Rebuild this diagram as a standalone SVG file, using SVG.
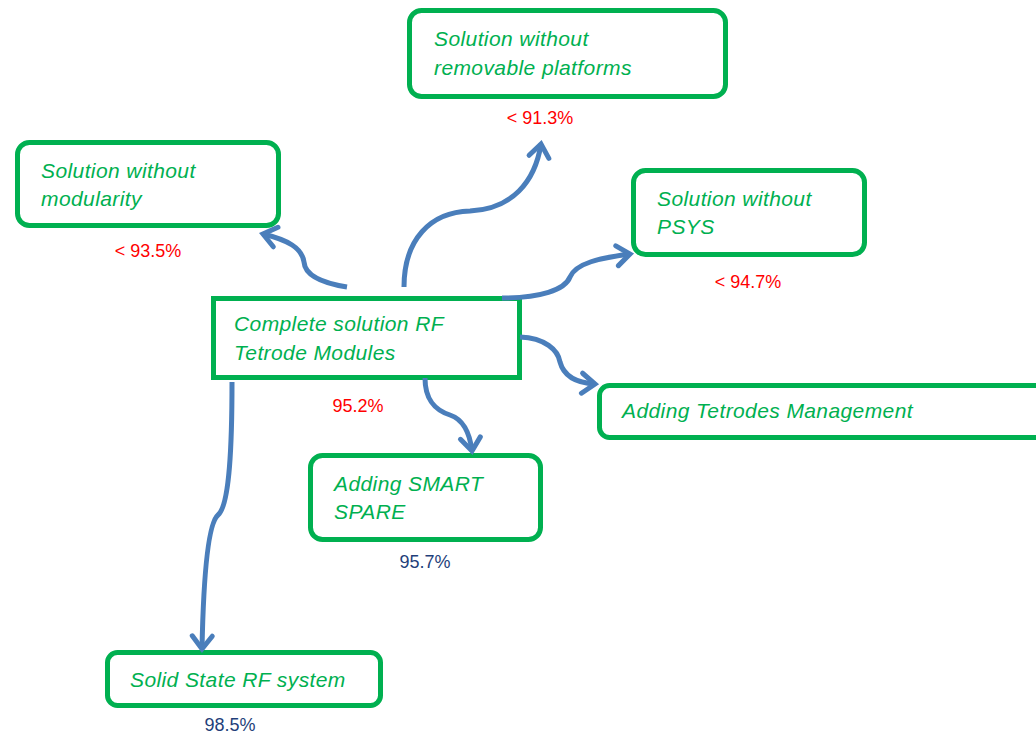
<svg xmlns="http://www.w3.org/2000/svg" width="1036" height="733" viewBox="0 0 1036 733">
  <style>
    .box { fill: #ffffff; stroke: #00B050; stroke-width: 5; }
    .name { font-family: "Liberation Sans", "DejaVu Sans", sans-serif; font-style: italic; font-size: 21px; letter-spacing: 0.4px; fill: #00B050; }
    .pct { font-family: "Liberation Sans", "DejaVu Sans", sans-serif; font-size: 18px; text-anchor: middle; }
    .red { fill: #FF0000; }
    .navy { fill: #1F3F7A; }
    .link { fill: none; stroke: #4A7EBB; stroke-width: 5; stroke-linecap: butt; marker-end: url(#chev); }
  </style>
  <defs>
    <marker id="chev" markerUnits="userSpaceOnUse" viewBox="-16 -12 20 24" refX="0" refY="0" markerWidth="20" markerHeight="24" orient="auto" overflow="visible">
      <path d="M-13,-10 L0,0 L-13,10" fill="none" stroke="#4A7EBB" stroke-width="5" stroke-linecap="round" stroke-linejoin="miter"/>
    </marker>
  </defs>
  <rect width="1036" height="733" fill="#ffffff"/>

  <g id="node-removable">
    <rect class="box" x="409.5" y="10.5" width="316" height="86" rx="12"/>
    <text class="name" x="434" y="46">Solution without</text>
    <text class="name" x="434" y="75">removable platforms</text>
    <text class="pct red" x="540" y="124">&lt; 91.3%</text>
  </g>

  <g id="node-modularity">
    <rect class="box" x="17.5" y="142.5" width="261" height="83" rx="12"/>
    <text class="name" x="41" y="178">Solution without</text>
    <text class="name" x="41" y="206">modularity</text>
    <text class="pct red" x="148" y="257">&lt; 93.5%</text>
  </g>

  <g id="node-psys">
    <rect class="box" x="633.5" y="170.5" width="231" height="84" rx="12"/>
    <text class="name" x="657" y="206">Solution without</text>
    <text class="name" x="657" y="234">PSYS</text>
    <text class="pct red" x="748" y="288">&lt; 94.7%</text>
  </g>

  <g id="node-complete">
    <rect class="box" x="213.5" y="298.5" width="306" height="79"/>
    <text class="name" x="234" y="331">Complete solution RF</text>
    <text class="name" x="234" y="360">Tetrode Modules</text>
    <text class="pct red" x="358" y="412">95.2%</text>
  </g>

  <g id="node-tetrodes-mgmt">
    <rect class="box" x="599.5" y="385.5" width="460" height="52" rx="10"/>
    <text class="name" x="622" y="418">Adding Tetrodes Management</text>
  </g>

  <g id="node-smart-spare">
    <rect class="box" x="310.5" y="455.5" width="230" height="84" rx="12"/>
    <text class="name" x="334" y="491">Adding SMART</text>
    <text class="name" x="334" y="519">SPARE</text>
    <text class="pct navy" x="425" y="568">95.7%</text>
  </g>

  <g id="node-solid-state">
    <rect class="box" x="107.5" y="652.5" width="273" height="53" rx="10"/>
    <text class="name" x="130" y="687">Solid State RF system</text>
    <text class="pct navy" x="230" y="731">98.5%</text>
  </g>

  <g id="connectors">
    <path class="link" d="M347,287 C322,283 305,276 304,262 C302,248 288,240 263,234"/>
    <path class="link" d="M404,287 C404,240 430,212 470,211 C512,209 535,182 541,144"/>
    <path class="link" d="M502,298 C540,298 565,290 570,277 C576,263 600,258 630,254"/>
    <path class="link" d="M520,337 C545,338 558,350 560,362 C564,377 578,383 595,384"/>
    <path class="link" d="M425,378 C425,400 435,410 450,415 C465,420 470,435 472,451"/>
    <path class="link" d="M232,382 C232,440 230,505 218,515 C206,525 203,600 202,649"/>
  </g>
</svg>
